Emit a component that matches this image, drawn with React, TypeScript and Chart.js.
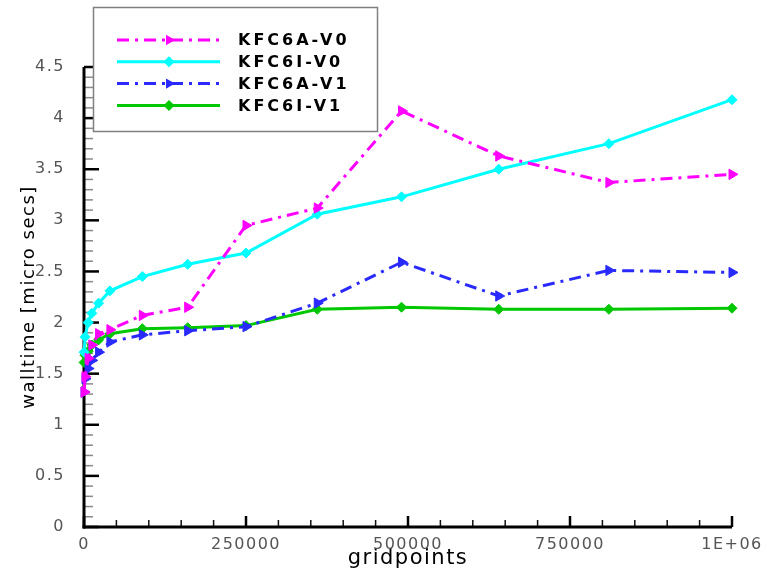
import React, { useEffect, useRef } from 'react';
import { Chart, registerables } from 'chart.js';

Chart.register(...registerables);

// ---- data ----
const gridpoints = [100, 1600, 6400, 12100, 22500, 40000, 90000, 160000, 250000, 360000, 490000, 640000, 810000, 1000000];
const kfc6aV0 = [1.32, 1.47, 1.65, 1.78, 1.89, 1.93, 2.07, 2.15, 2.95, 3.12, 4.07, 3.63, 3.37, 3.45];
const kfc6iV0 = [1.71, 1.86, 2.0, 2.09, 2.19, 2.31, 2.45, 2.57, 2.68, 3.06, 3.23, 3.5, 3.75, 4.18];
const kfc6aV1 = [1.32, 1.45, 1.55, 1.63, 1.71, 1.81, 1.88, 1.92, 1.96, 2.19, 2.59, 2.26, 2.51, 2.49];
const kfc6iV1 = [1.61, 1.68, 1.72, 1.78, 1.83, 1.89, 1.94, 1.95, 1.97, 2.13, 2.15, 2.13, 2.13, 2.14];
const seriesNames = ['KFC6A-V0', 'KFC6I-V0', 'KFC6A-V1', 'KFC6I-V1'];
const xTickValues = [0, 250000, 500000, 750000, 1000000];
const xTickLabels = ['0', '250000', '500000', '750000', '1E+06'];
const yTickValues = [0, 0.5, 1, 1.5, 2, 2.5, 3, 3.5, 4, 4.5];
const yTickLabels = ['0', '0.5', '1', '1.5', '2', '2.5', '3', '3.5', '4', '4.5'];
const xTitle = 'gridpoints';
const yTitle = 'walltime [micro secs]';

const toPts = (ys: number[]) => ys.map((y, i) => ({ x: gridpoints[i], y }));

const spacingPlugin = {
  id: 'spacing',
  beforeDraw(chart: any) {
    chart.ctx.letterSpacing = '1.5px';
  },
};

const axisPlugin = {
  id: 'axisTicks',
  beforeDatasetsDraw(chart: any) {
    const { ctx, chartArea, scales } = chart;
    const { left, right, top, bottom } = chartArea;
    const x = scales.x;
    const y = scales.y;
    const line = (x1: number, y1: number, x2: number, y2: number) => {
      ctx.beginPath();
      ctx.moveTo(x1, y1);
      ctx.lineTo(x2, y2);
      ctx.stroke();
    };
    ctx.save();
    ctx.setLineDash([]);
    // y minor
    ctx.strokeStyle = '#8a8a8a';
    ctx.lineWidth = 1.5;
    for (let i = 0; i <= 45; i++) {
      if (i % 5 === 0) continue;
      const py = y.getPixelForValue(i / 10);
      line(left, py, left + 9, py);
    }
    // y major
    ctx.strokeStyle = '#000';
    ctx.lineWidth = 2.5;
    for (let i = 0; i <= 9; i++) {
      const py = y.getPixelForValue(i * 0.5);
      line(left, py, left + 15, py);
    }
    // x minor
    ctx.strokeStyle = '#111';
    ctx.lineWidth = 1.5;
    for (let i = 0; i <= 20; i++) {
      if (i % 5 === 0) continue;
      const px = x.getPixelForValue(i * 50000);
      line(px, bottom, px, bottom - 7);
    }
    // x major
    ctx.strokeStyle = '#000';
    ctx.lineWidth = 2.5;
    for (let i = 0; i <= 4; i++) {
      const px = x.getPixelForValue(i * 250000);
      line(px, bottom, px, bottom - 11);
    }
    // axis lines
    ctx.lineWidth = 3;
    line(left, top, left, bottom + 1.5);
    line(left - 1.5, bottom, right, bottom);
    ctx.restore();
  },
};

const drawMarker = (ctx: any, style: string, cx: number, cy: number, r: number, color: string) => {
  ctx.fillStyle = color;
  ctx.beginPath();
  if (style === 'triangle') {
    for (let k = 0; k < 3; k++) {
      const a = (k * 2 * Math.PI) / 3;
      const px = cx + Math.cos(a) * r;
      const py = cy + Math.sin(a) * r;
      if (k === 0) ctx.moveTo(px, py);
      else ctx.lineTo(px, py);
    }
  } else {
    ctx.moveTo(cx, cy - r);
    ctx.lineTo(cx + r, cy);
    ctx.lineTo(cx, cy + r);
    ctx.lineTo(cx - r, cy);
  }
  ctx.closePath();
  ctx.fill();
};

const legendPlugin = {
  id: 'boxLegend',
  afterDraw(chart: any) {
    const ctx = chart.ctx;
    ctx.save();
    ctx.setLineDash([]);
    ctx.fillStyle = '#fff';
    ctx.fillRect(93.5, 7.5, 284, 124);
    ctx.strokeStyle = '#808080';
    ctx.lineWidth = 1.5;
    ctx.strokeRect(93.5, 7.5, 284, 124);
    chart.data.datasets.forEach((ds: any, i: number) => {
      const ry = 40 + i * 21.8;
      ctx.strokeStyle = ds.borderColor;
      ctx.lineWidth = ds.borderWidth;
      ctx.setLineDash(ds.borderDash || []);
      ctx.beginPath();
      ctx.moveTo(117, ry);
      ctx.lineTo(220, ry);
      ctx.stroke();
      ctx.setLineDash([]);
      drawMarker(ctx, ds.pointStyle, 169, ry, ds.pointStyle === 'triangle' ? 6 : 5.5, ds.borderColor);
      ctx.fillStyle = '#000';
      ctx.font = 'bold 16px "DejaVu Sans"';
      ctx.letterSpacing = '3px';
      ctx.textBaseline = 'middle';
      ctx.textAlign = 'left';
      ctx.fillText(ds.label, 238, ry + 1);
    });
    ctx.restore();
  },
};

const makeDs = (label: string, data: number[], color: string, dashed: boolean, style: string) => ({
  label,
  data: toPts(data),
  borderColor: color,
  backgroundColor: color,
  borderWidth: 3,
  borderDash: dashed ? [12, 6, 3, 6] : [],
  pointStyle: style,
  pointRotation: style === 'triangle' ? 90 : 0,
  pointRadius: style === 'triangle' ? 6 : 5,
  pointBorderWidth: 1,
  pointBackgroundColor: color,
  pointBorderColor: color,
  tension: 0,
  clip: false as any,
});

export default function App() {
  const ref = useRef<HTMLCanvasElement>(null);
  useEffect(() => {
    const chart = new Chart(ref.current as HTMLCanvasElement, {
      type: 'line',
      data: {
        datasets: [
          makeDs(seriesNames[0], kfc6aV0, '#ff00ff', true, 'triangle'),
          makeDs(seriesNames[1], kfc6iV0, '#00ffff', false, 'rectRot'),
          makeDs(seriesNames[2], kfc6aV1, '#2a2aff', true, 'triangle'),
          makeDs(seriesNames[3], kfc6iV1, '#00c800', false, 'rectRot'),
        ] as any,
      },
      options: {
        animation: false,
        responsive: false,
        devicePixelRatio: 1,
        layout: { padding: { left: 0, right: 35, top: 67, bottom: 0 } },
        plugins: { legend: { display: false }, tooltip: { enabled: false } },
        scales: {
          x: {
            type: 'linear',
            min: 0,
            max: 1000000,
            grid: { display: false },
            border: { display: false },
            afterBuildTicks: (scale: any) => {
              scale.ticks = xTickValues.map((v) => ({ value: v }));
            },
            afterFit: (scale: any) => {
              scale.height = 44;
              scale.paddingLeft = 0;
              scale.paddingRight = 0;
            },
            ticks: {
              autoSkip: false,
              maxRotation: 0,
              padding: 0,
              color: '#555',
              font: { family: '"DejaVu Sans"', size: 16 },
              callback: (v: any) => {
                const idx = xTickValues.indexOf(Number(v));
                return idx >= 0 ? xTickLabels[idx] : '';
              },
            },
            title: {
              display: true,
              text: xTitle,
              color: '#000',
              font: { family: '"DejaVu Sans"', size: 21 },
              padding: { top: 0, bottom: 0 },
            },
          },
          y: {
            type: 'linear',
            min: 0,
            max: 4.5,
            grid: { display: false },
            border: { display: false },
            afterBuildTicks: (scale: any) => {
              scale.ticks = yTickValues.map((v) => ({ value: v }));
            },
            afterFit: (scale: any) => {
              scale.width = 84;
              scale.paddingTop = 0;
              scale.paddingBottom = 0;
            },
            ticks: {
              autoSkip: false,
              padding: 11,
              color: '#555',
              font: { family: '"DejaVu Sans"', size: 16 },
              callback: (v: any) => {
                const idx = yTickValues.indexOf(Number(v));
                return idx >= 0 ? yTickLabels[idx] : '';
              },
            },
            title: {
              display: true,
              text: yTitle,
              color: '#000',
              font: { family: '"DejaVu Sans"', size: 18 },
              padding: { top: 19, bottom: 0 },
            },
          },
        },
      } as any,
      plugins: [spacingPlugin, axisPlugin, legendPlugin],
    });
    return () => chart.destroy();
  }, []);
  return (
    <div style={{ position: 'absolute', left: 0, top: 0, width: 767, height: 571, background: '#fff' }}>
      <canvas ref={ref} width={767} height={571} style={{ display: 'block', width: 767, height: 571 }} />
    </div>
  );
}
